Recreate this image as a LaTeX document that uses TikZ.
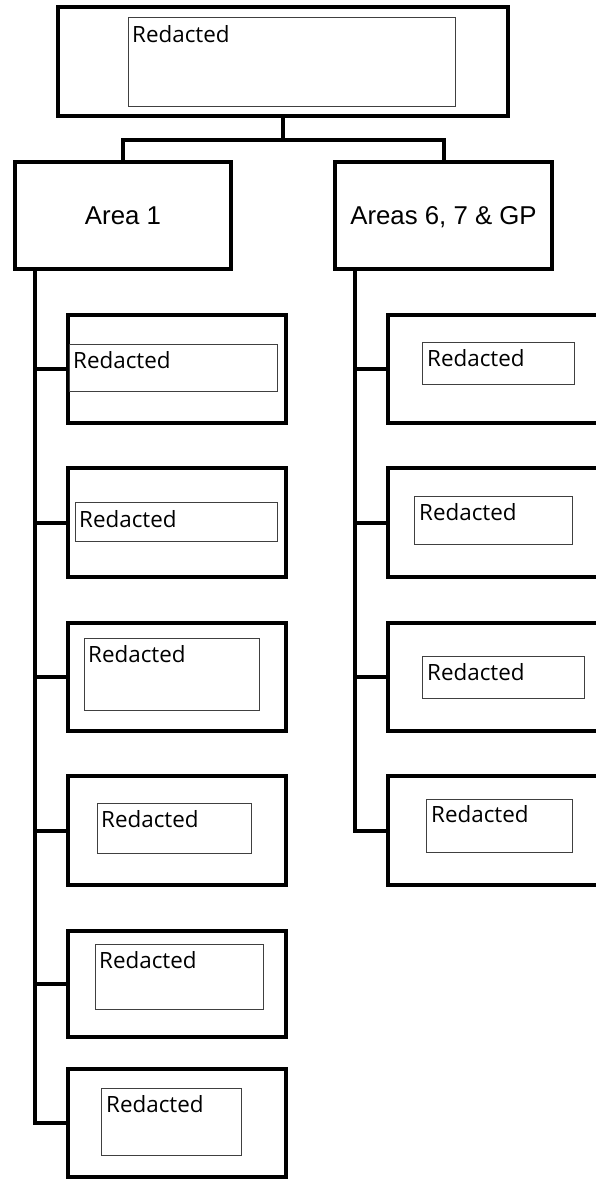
\documentclass[tikz,border=0pt]{standalone}
\usepackage{fontspec}
\setmainfont{Liberation Sans}
\newfontfamily\redfont{Open Sans}
\begin{document}
\begin{tikzpicture}[x=1pt,y=-1pt,
  obox/.style={draw, line width=4pt, rectangle, inner sep=0pt},
  ibox/.style={draw=black!75, line width=1pt, rectangle, inner sep=0pt, anchor=north west},
  rtext/.style={anchor=base west, inner sep=0pt, font=\redfont\fontsize{22.4}{26}\selectfont},
  atext/.style={font=\fontsize{25.8}{30}\selectfont, text height=18.5pt, text depth=0pt},
  conn/.style={line width=4pt}]
\useasboundingbox (0,0) rectangle (596,1179);
\clip (0,0) rectangle (596,1179);

% top
\node[obox, minimum width=450pt, minimum height=109pt] (top) at (283,61.5) {};
\node[ibox, minimum width=327pt, minimum height=89pt] (topin) at (128,17) {};
\node[rtext] (toptxt) at (132,42) {Redacted};

% areas
\node[obox, atext, minimum width=216pt, minimum height=107pt] (a1) at (123,215.5) {Area 1};
\node[obox, atext, minimum width=217pt, minimum height=107pt] (a2) at (443.5,215.5) {Areas 6, 7 \& GP};

% left children
\node[obox, minimum width=218pt, minimum height=108pt] (L1) at (177,369) {};
\node[obox, minimum width=218pt, minimum height=109pt] (L2) at (177,522.5) {};
\node[obox, minimum width=218pt, minimum height=108pt] (L3) at (177,677) {};
\node[obox, minimum width=218pt, minimum height=109pt] (L4) at (177,830.5) {};
\node[obox, minimum width=218pt, minimum height=106pt] (L5) at (177,984) {};
\node[obox, minimum width=218pt, minimum height=108pt] (L6) at (177,1123) {};

\node[ibox, minimum width=208pt, minimum height=47pt] (L1in) at (69,344) {};
\node[rtext] (L1t) at (73,368) {Redacted};
\node[ibox, minimum width=202pt, minimum height=39pt] (L2in) at (75,502) {};
\node[rtext] (L2t) at (79,527) {Redacted};
\node[ibox, minimum width=175pt, minimum height=72pt] (L3in) at (84,638) {};
\node[rtext] (L3t) at (88,662) {Redacted};
\node[ibox, minimum width=154pt, minimum height=50pt] (L4in) at (97,803) {};
\node[rtext] (L4t) at (101,827) {Redacted};
\node[ibox, minimum width=168pt, minimum height=65pt] (L5in) at (95,944) {};
\node[rtext] (L5t) at (99,968) {Redacted};
\node[ibox, minimum width=140pt, minimum height=67pt] (L6in) at (101,1088) {};
\node[rtext] (L6t) at (106,1112) {Redacted};

% right children
\node[obox, minimum width=220pt, minimum height=108pt] (R1) at (498,369) {};
\node[obox, minimum width=220pt, minimum height=109pt] (R2) at (498,522.5) {};
\node[obox, minimum width=220pt, minimum height=108pt] (R3) at (498,677) {};
\node[obox, minimum width=220pt, minimum height=109pt] (R4) at (498,830.5) {};

\node[ibox, minimum width=152pt, minimum height=42pt] (R1in) at (422,342) {};
\node[rtext] (R1t) at (427,366) {Redacted};
\node[ibox, minimum width=158pt, minimum height=48pt] (R2in) at (414,496) {};
\node[rtext] (R2t) at (419,520) {Redacted};
\node[ibox, minimum width=162pt, minimum height=42pt] (R3in) at (422,656) {};
\node[rtext] (R3t) at (427,680) {Redacted};
\node[ibox, minimum width=146pt, minimum height=53pt] (R4in) at (426,799) {};
\node[rtext] (R4t) at (431,822) {Redacted};

% connectors
\draw[conn] (top.south) -- ++(0,22) coordinate (hub);
\draw[conn] (a1.north) |- (a2.north |- hub) -- (a2.north);

\coordinate (lt) at ([xshift=22pt]a1.south west);
\draw[conn] (lt) |- (L6.west);
\foreach \n in {L1,L2,L3,L4,L5} \draw[conn] (lt |- \n.west) -- (\n.west);

\coordinate (rt) at ([xshift=22pt]a2.south west);
\draw[conn] (rt) |- (R4.west);
\foreach \n in {R1,R2,R3} \draw[conn] (rt |- \n.west) -- (\n.west);
\end{tikzpicture}
\end{document}
